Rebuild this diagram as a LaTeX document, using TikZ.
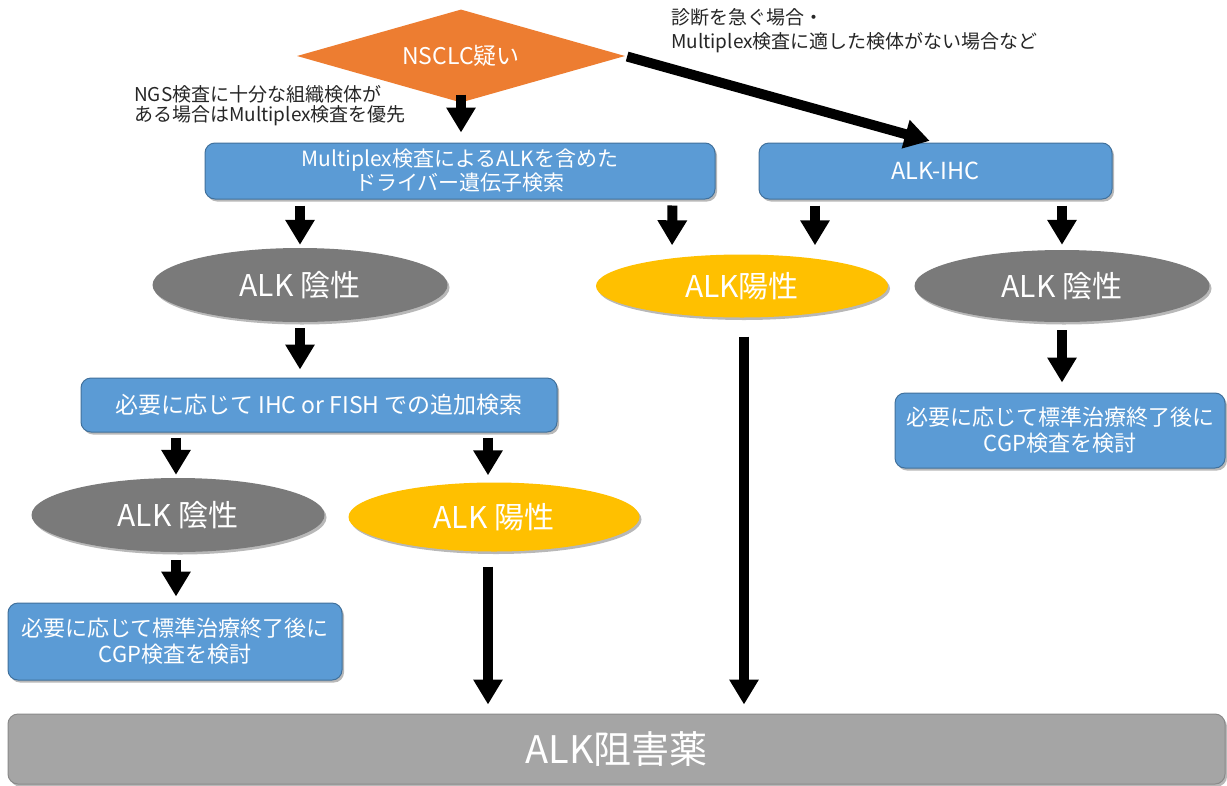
\documentclass[tikz,border=0pt]{standalone}
\usepackage{fontspec}
\setmainfont{Noto Sans CJK JP}
\usetikzlibrary{shapes.geometric,arrows.meta,shadows}
\definecolor{boxblue}{HTML}{5B9BD5}
\definecolor{boxedge}{HTML}{41719C}
\definecolor{orng}{HTML}{ED7D31}
\definecolor{darkgray}{HTML}{7A7A7A}
\definecolor{yel}{HTML}{FFC000}
\definecolor{lgray}{HTML}{A5A5A5}
\definecolor{lgedge}{HTML}{8A8A8A}
\tikzset{
  shd/.style={drop shadow={shadow xshift=2pt,shadow yshift=-2.5pt,opacity=0.28,fill=black}},
  bluebox/.style={shd,draw=boxedge,line width=1pt,fill=boxblue,rounded corners=10pt,text=white,align=center,inner sep=0pt},
  ell/.style={shd,ellipse,inner sep=0pt,text=white,font=\fontsize{30}{34}\selectfont},
  grayell/.style={ell,fill=darkgray},
  yelell/.style={ell,fill=yel},
  note/.style={anchor=north west,align=left,text=black!85,inner sep=0pt},
  blk/.style={line width=10pt,-{Triangle[width=28pt,length=25pt]}},
}
\begin{document}
\begin{tikzpicture}[x=1pt,y=-1pt]
\useasboundingbox (0,0) rectangle (1227,785);
\fill[white] (0,0) rectangle (1227,785);

% nodes
\node[diamond,fill=orng,inner sep=0pt,minimum width=328pt,minimum height=93pt,aspect=3.5,text=white,font=\fontsize{23}{26}\selectfont] (d) at (461,56) {NSCLC疑い};

\node[note,font=\fontsize{19}{20}\selectfont] (n1) at (134,85) {NGS検査に十分な組織検体が\\ある場合はMultiplex検査を優先};
\node[note,font=\fontsize{19}{24}\selectfont] (n2) at (671,8) {診断を急ぐ場合・\\Multiplex検査に適した検体がない場合など};

\node[bluebox,minimum width=510pt,minimum height=56pt,font=\fontsize{21}{24}\selectfont] (m) at (460,171) {Multiplex検査によるALKを含めた\\ドライバー遺伝子検索};
\node[bluebox,minimum width=353pt,minimum height=56pt,font=\fontsize{23.5}{26}\selectfont] (ihc) at (935.5,171) {ALK-IHC};

\node[grayell,minimum width=295pt,minimum height=74pt] (ng1) at (300,285) {ALK 陰性};
\node[yelell,minimum width=292pt,minimum height=63pt] (pos1) at (742,286) {ALK陽性};
\node[grayell,minimum width=295pt,minimum height=72pt] (ng2) at (1062,286) {ALK 陰性};

\node[bluebox,minimum width=476pt,minimum height=54pt,font=\fontsize{23}{26}\selectfont] (add) at (319,405) {必要に応じて IHC or FISH での追加検索};
\node[bluebox,minimum width=330pt,minimum height=75pt,font=\fontsize{22}{26}\selectfont] (cgpR) at (1060,430.5) {必要に応じて標準治療終了後に\\CGP検査を検討};

\node[grayell,minimum width=293pt,minimum height=74pt] (ng3) at (178,515) {ALK 陰性};
\node[yelell,minimum width=291pt,minimum height=69pt] (pos2) at (494,517) {ALK 陽性};

\node[bluebox,minimum width=334pt,minimum height=77pt,font=\fontsize{22}{26}\selectfont] (cgpL) at (175,641.5) {必要に応じて標準治療終了後に\\CGP検査を検討};

\node[shd,draw=lgedge,line width=1pt,fill=lgray,rounded corners=10pt,minimum width=1217pt,minimum height=70pt,inner sep=0pt,text=white,font=\fontsize{38}{42}\selectfont] (drug) at (616.5,749) {ALK阻害薬};

% arrows
\draw[blk,shorten <=-8pt,shorten >=10pt] (d.south) -- (d.south |- m.north);
\draw[blk,shorten <=2pt,shorten >=6pt] (d.east) -- (ihc.north);
\draw[blk,shorten <=6pt,shorten >=3pt] (m.south -| ng1.north) -- (ng1.north);
\draw[blk,shorten <=6pt,shorten >=9pt] ([xshift=-43pt]m.south east) -- ([xshift=-70pt]pos1.north);
\draw[blk,shorten <=6pt,shorten >=9pt] ([xshift=-120.5pt]ihc.south) -- ([xshift=73pt]pos1.north);
\draw[blk,shorten <=6pt,shorten >=5pt] (ihc.south -| ng2.north) -- (ng2.north);
\draw[blk,shorten <=6pt,shorten >=8pt] (ng1.south) -- (ng1.south |- add.north);
\draw[blk,shorten <=19pt,shorten >=9pt] ([xshift=2pt]pos1.south) -- ([xshift=2pt]pos1.south |- drug.north);
\draw[blk,shorten <=8pt,shorten >=10pt] (ng2.south) -- (ng2.south |- cgpR.north);
\draw[blk,shorten <=5pt,shorten >=3pt] ([xshift=-2pt]ng3.north |- add.south) -- ([xshift=-2pt]ng3.north);
\draw[blk,shorten <=5pt,shorten >=7pt] ([xshift=-6pt]pos2.north |- add.south) -- ([xshift=-6pt]pos2.north);
\draw[blk,shorten <=8pt,shorten >=6pt] ([xshift=-2pt]ng3.south) -- ([xshift=-2pt]ng3.south |- cgpL.north);
\draw[blk,shorten <=15pt,shorten >=9pt] ([xshift=-6pt]pos2.south) -- ([xshift=-6pt]pos2.south |- drug.north);
\end{tikzpicture}
\end{document}
